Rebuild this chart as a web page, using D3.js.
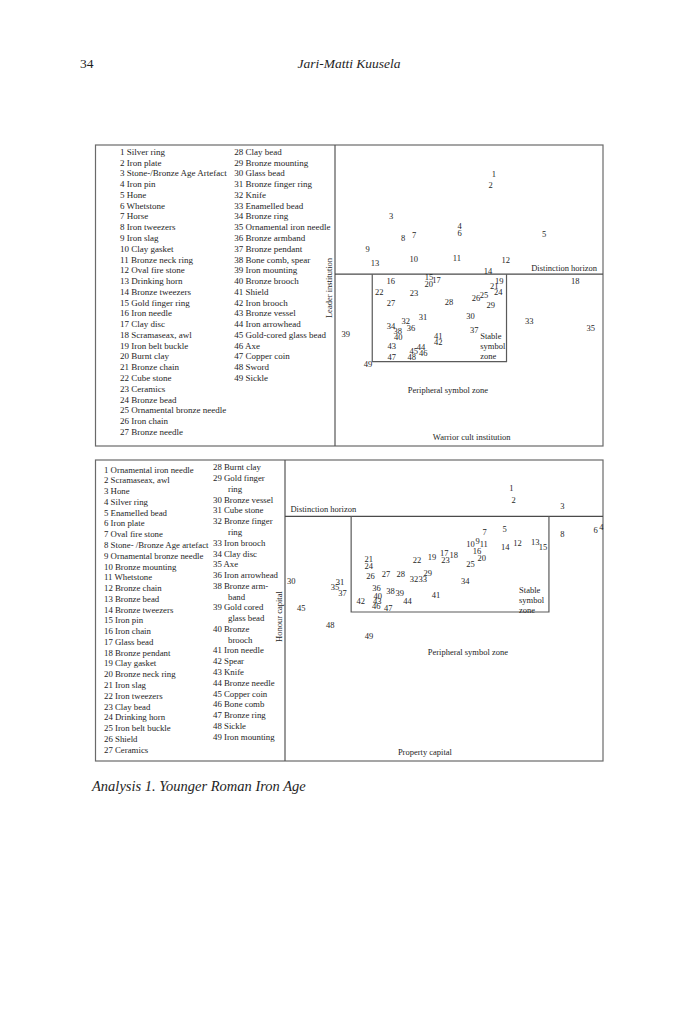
<!DOCTYPE html>
<html>
<head>
<meta charset="utf-8">
<script src="https://cdn.jsdelivr.net/npm/d3@7/dist/d3.min.js"></script>
<style>
  body { margin: 0; background: #fff; }
  svg text { font-family: "Liberation Serif", "Times New Roman", serif; fill: #1e1e1e; }
</style>
</head>
<body>
<div id="page"></div>
<script>
// ---------- upper map: Leader institution (y) / Warrior cult institution (x)
const topKey = [
  "1 Silver ring", "2 Iron plate", "3 Stone-/Bronze Age Artefact", "4 Iron pin", "5 Hone",
  "6 Whetstone", "7 Horse", "8 Iron tweezers", "9 Iron slag", "10 Clay gasket",
  "11 Bronze neck ring", "12 Oval fire stone", "13 Drinking horn", "14 Bronze tweezers",
  "15 Gold finger ring", "16 Iron needle", "17 Clay disc", "18 Scramaseax, awl",
  "19 Iron belt buckle", "20 Burnt clay", "21 Bronze chain", "22 Cube stone", "23 Ceramics",
  "24 Bronze bead", "25 Ornamental bronze needle", "26 Iron chain", "27 Bronze needle",
  "28 Clay bead", "29 Bronze mounting", "30 Glass bead", "31 Bronze finger ring", "32 Knife",
  "33 Enamelled bead", "34 Bronze ring", "35 Ornamental iron needle", "36 Bronze armband",
  "37 Bronze pendant", "38 Bone comb, spear", "39 Iron mounting", "40 Bronze brooch",
  "41 Shield", "42 Iron brooch", "43 Bronze vessel", "44 Iron arrowhead",
  "45 Gold-cored glass bead", "46 Axe", "47 Copper coin", "48 Sword", "49 Sickle"
]
const topIds = d3.range(1, 50)
const topX = [59.3, 58.1, 20.9, 46.5, 78.0, 46.5, 29.5, 25.4, 12.2, 29.4,
  45.5, 63.7, 14.9, 57.1, 35.1, 20.8, 37.9, 89.6, 61.3, 35.0,
  59.4, 16.5, 29.5, 60.9, 55.6, 52.6, 20.9, 42.5, 58.1, 50.6,
  32.8, 26.4, 72.5, 20.9, 95.4, 28.4, 52.0, 23.4, 4.0, 23.6,
  38.5, 38.5, 21.2, 32.1, 29.4, 32.9, 21.2, 28.6, 12.3]
const topY = [90.5, 86.7, 76.4, 73.1, 70.4, 70.8, 70.1, 69.1, 65.5, 62.2,
  62.5, 61.8, 60.9, 58.1, 56.0, 54.8, 55.0, 54.9, 54.8, 53.7,
  53.1, 51.2, 50.8, 51.3, 50.2, 49.3, 47.6, 47.8, 46.8, 43.2,
  42.8, 41.6, 41.5, 39.8, 39.3, 39.1, 38.5, 38.3, 37.1, 36.3,
  36.6, 34.5, 33.2, 32.8, 31.6, 31.0, 29.7, 29.6, 27.1]
const topHorizon = 57.1          // distinction horizon level
const topStable = [13.9, 64.0, 28.0]   // stable zone: left, right, lower edge

// ---------- lower map: Honour capital (y) / Property capital (x)
const bottomKey = [
  "1 Ornamental iron needle", "2 Scramaseax, awl", "3 Hone", "4 Silver ring", "5 Enamelled bead",
  "6 Iron plate", "7 Oval fire stone", "8 Stone- /Bronze Age artefact",
  "9 Ornamental bronze needle", "10 Bronze mounting", "11 Whetstone", "12 Bronze chain",
  "13 Bronze bead", "14 Bronze tweezers", "15 Iron pin", "16 Iron chain", "17 Glass bead",
  "18 Bronze pendant", "19 Clay gasket", "20 Bronze neck ring", "21 Iron slag",
  "22 Iron tweezers", "23 Clay bead", "24 Drinking horn", "25 Iron belt buckle", "26 Shield",
  "27 Ceramics",
  "28 Burnt clay", "29 Gold finger|ring", "30 Bronze vessel", "31 Cube stone",
  "32 Bronze finger|ring", "33 Iron brooch", "34 Clay disc", "35 Axe", "36 Iron arrowhead",
  "38 Bronze arm-|band", "39 Gold cored|glass bead", "40 Bronze|brooch", "41 Iron needle",
  "42 Spear", "43 Knife", "44 Bronze needle", "45 Copper coin", "46 Bone comb",
  "47 Bronze ring", "48 Sickle", "49 Iron mounting"
]
const bottomIds = d3.range(1, 50)
const bottomX = [71.2, 71.9, 87.2, 99.5, 69.1, 97.7, 62.8, 87.2, 60.6, 58.3,
  62.5, 73.1, 78.7, 69.3, 81.1, 60.4, 50.1, 53.1, 46.2, 61.9,
  26.3, 41.5, 50.5, 26.3, 58.3, 26.9, 31.8, 36.4, 44.9, 2.0,
  17.3, 40.6, 43.3, 56.7, 15.7, 28.8, 18.1, 33.2, 36.1, 29.2,
  47.5, 23.8, 29.0, 38.5, 5.1, 28.7, 32.5, 14.2, 26.4]
const bottomY = [90.7, 86.8, 84.8, 77.7, 77.1, 76.8, 76.1, 75.4, 73.2, 72.1,
  72.1, 72.3, 72.8, 71.0, 71.0, 69.8, 69.0, 68.4, 67.8, 67.5,
  67.2, 66.7, 66.7, 64.7, 65.5, 61.5, 62.1, 62.0, 62.4, 59.8,
  59.6, 60.4, 60.4, 59.8, 57.9, 57.4, 55.9, 56.4, 55.8, 54.8,
  55.1, 53.1, 53.1, 53.1, 50.7, 51.6, 50.9, 45.2, 41.5]
const bottomHorizon = 81.3
const bottomStable = [20.8, 83.0, 49.5]

var width = 700, height = 1014
var fontMap = 8.5, lineStep = 10.77

var svg = d3.select("#page").append("svg")
  .attr("width", width)
  .attr("height", height)

svg.append("rect").attr("width", width).attr("height", height).attr("fill", "#fff")

// running head
svg.append("text")
  .attr("x", 80).attr("y", 68)
  .style("font-size", "13.5px")
  .text("34")
svg.append("text")
  .attr("x", 349).attr("y", 68)
  .attr("text-anchor", "middle")
  .style("font-size", "13.5px").style("font-style", "italic")
  .text("Jari-Matti Kuusela")

function drawPanel(p) {
  var g = svg.append("g")

  // frame + divider
  g.append("rect")
    .attr("x", p.left).attr("y", p.top)
    .attr("width", p.right - p.left).attr("height", p.bottom - p.top)
    .attr("fill", "none").attr("stroke", "#6a6a6a").attr("stroke-width", 1.2)
  g.append("line")
    .attr("x1", p.split).attr("x2", p.split)
    .attr("y1", p.top).attr("y2", p.bottom)
    .attr("stroke", "#555").attr("stroke-width", 1.2)

  // key, two columns
  p.key.forEach(function(entry, i) {
    var col = i < p.colBreak ? 0 : 1
    var row = col === 0 ? i : i - p.colBreak
    var parts = entry.split("|")
    // rows used by earlier wrapped entries in column 2
    var offset = 0
    if (col === 1) {
      for (var k = p.colBreak; k < i; k++) offset += p.key[k].split("|").length - 1
    }
    parts.forEach(function(part, j) {
      g.append("text")
        .attr("x", p.keyX[col] + (j > 0 ? p.indent : 0))
        .attr("y", p.keyY[col] + (row + offset + j) * lineStep)
        .attr("dy", "0.35em")
        .style("font-size", p.keyFont + "px")
        .text(part)
    })
  })

  var xScale = d3.scaleLinear().domain([0, 100]).range([p.split, p.right])
  var yScale = d3.scaleLinear().domain([0, 100]).range([p.bottom, p.top])

  // distinction horizon and stable symbol zone
  g.append("line")
    .attr("x1", xScale(0)).attr("x2", xScale(100))
    .attr("y1", yScale(p.horizon)).attr("y2", yScale(p.horizon))
    .attr("stroke", "#4a4a4a").attr("stroke-width", 1.2)
  g.append("path")
    .attr("d", d3.line()([
      [xScale(p.stable[0]), yScale(p.horizon)],
      [xScale(p.stable[0]), yScale(p.stable[2])],
      [xScale(p.stable[1]), yScale(p.stable[2])],
      [xScale(p.stable[1]), yScale(p.horizon)]
    ]))
    .attr("fill", "none").attr("stroke", "#5a5a5a").attr("stroke-width", 1.2)

  // zone names
  p.notes.forEach(function(n) {
    g.append("text")
      .attr("x", xScale(n.x)).attr("y", yScale(n.y))
      .attr("dy", "0.35em")
      .attr("text-anchor", n.anchor)
      .style("font-size", fontMap + "px")
      .text(n.text)
  })

  // axis titles
  g.append("text")
    .attr("x", xScale(p.xTitleAt)).attr("y", p.bottom - 6)
    .attr("text-anchor", "middle")
    .style("font-size", fontMap + "px")
    .text(p.xTitle)
  g.append("text")
    .attr("transform", "translate(" + (p.split - 3) + "," + yScale(p.yTitleAt) + ") rotate(-90)")
    .attr("text-anchor", "middle")
    .style("font-size", fontMap + "px")
    .text(p.yTitle)

  // numbered items
  g.selectAll(".item")
    .data(p.ids)
    .enter().append("text")
    .attr("class", "item")
    .attr("x", (d, i) => xScale(p.xs[i]))
    .attr("y", (d, i) => yScale(p.ys[i]))
    .attr("dy", "0.35em")
    .attr("text-anchor", "middle")
    .style("font-size", fontMap + "px")
    .text(d => d)
}

drawPanel({
  left: 95.5, right: 603, top: 145, bottom: 446, split: 335,
  key: topKey, colBreak: 27, keyX: [120, 234.3], keyY: [151.7, 151.7], indent: 0, keyFont: 9,
  ids: topIds, xs: topX, ys: topY,
  horizon: topHorizon, stable: topStable,
  notes: [
    { text: "Distinction horizon", x: 97.8, y: 59.2, anchor: "end" },
    { text: "Stable", x: 54.2, y: 36.6, anchor: "start" },
    { text: "symbol", x: 54.2, y: 33.2, anchor: "start" },
    { text: "zone", x: 54.2, y: 29.9, anchor: "start" },
    { text: "Peripheral symbol zone", x: 42.1, y: 18.5, anchor: "middle" }
  ],
  xTitle: "Warrior cult institution", xTitleAt: 51,
  yTitle: "Leader institution", yTitleAt: 52.5
})

drawPanel({
  left: 95.5, right: 603, top: 460, bottom: 761, split: 285,
  key: bottomKey, colBreak: 27, keyX: [104, 213], keyY: [469.5, 467.3], indent: 15, keyFont: 8.8,
  ids: bottomIds, xs: bottomX, ys: bottomY,
  horizon: bottomHorizon, stable: bottomStable,
  notes: [
    { text: "Distinction horizon", x: 1.7, y: 83.7, anchor: "start" },
    { text: "Stable", x: 73.6, y: 56.8, anchor: "start" },
    { text: "symbol", x: 73.6, y: 53.6, anchor: "start" },
    { text: "zone", x: 73.6, y: 50.3, anchor: "start" },
    { text: "Peripheral symbol zone", x: 57.5, y: 36.1, anchor: "middle" }
  ],
  xTitle: "Property capital", xTitleAt: 44,
  yTitle: "Honour capital", yTitleAt: 48
})

// caption
svg.append("text")
  .attr("x", 92).attr("y", 791)
  .style("font-size", "14.5px").style("font-style", "italic")
  .text("Analysis 1. Younger Roman Iron Age")
</script>
</body>
</html>
